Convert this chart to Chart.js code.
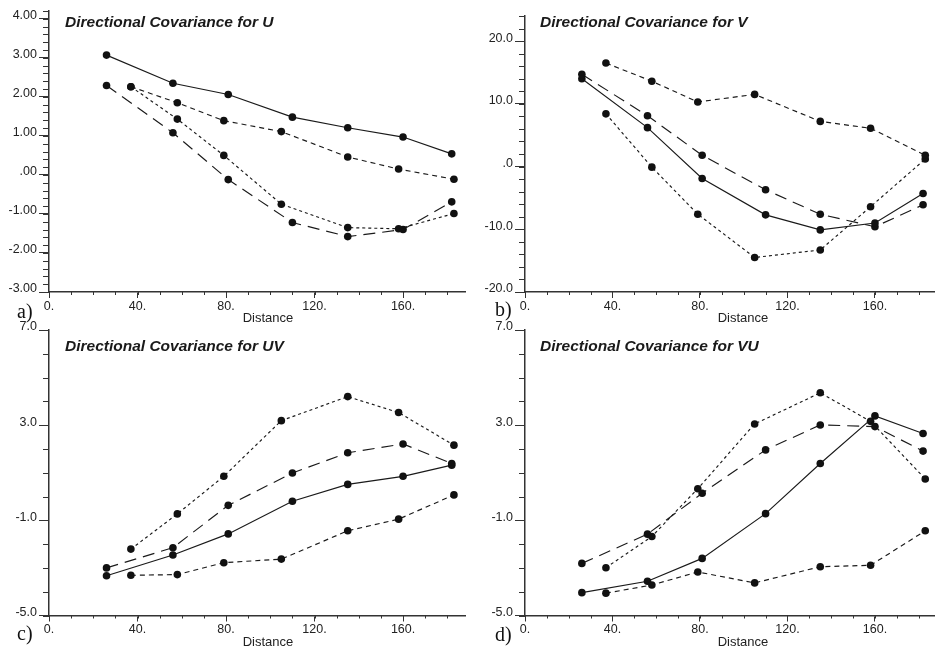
<!DOCTYPE html>
<html>
<head>
<meta charset="utf-8">
<script src="https://cdn.jsdelivr.net/npm/chart.js@4.4.1/dist/chart.umd.min.js"></script>
<style>
  body { margin: 0; background: #fff; }
  #fig { position: relative; width: 938px; height: 648px; overflow: hidden; background: #fff; }
  canvas { position: absolute; }
  .ttl { position: absolute; font: italic bold 15.5px 'Liberation Sans', Arial, sans-serif; line-height: 15px; color: #1a1a1a; white-space: nowrap; }
  .xl { position: absolute; font: 13px 'Liberation Sans', Arial, sans-serif; line-height: 13px; color: #222; transform: translateX(-50%); }
  .pl { position: absolute; font: 20px 'Liberation Serif', 'Times New Roman', serif; line-height: 20px; color: #111; }
</style>
</head>
<body>
<div id="fig">
  <canvas id="cU"  width="469" height="320" style="left:0;top:0"></canvas>
  <canvas id="cV"  width="470" height="320" style="left:468px;top:0"></canvas>
  <canvas id="cUV" width="469" height="328" style="left:0;top:320px"></canvas>
  <canvas id="cVU" width="470" height="328" style="left:468px;top:320px"></canvas>

  <div class="ttl" style="left:65px;top:14px">Directional Covariance for U</div>
  <div class="ttl" style="left:540px;top:14px">Directional Covariance for V</div>
  <div class="ttl" style="left:65px;top:338px">Directional Covariance for UV</div>
  <div class="ttl" style="left:540px;top:338px">Directional Covariance for VU</div>

  <div class="xl" style="left:268px;top:311px">Distance</div>
  <div class="xl" style="left:743px;top:311px">Distance</div>
  <div class="xl" style="left:268px;top:635px">Distance</div>
  <div class="xl" style="left:743px;top:635px">Distance</div>

  <div class="pl" style="left:17px;top:301px">a)</div>
  <div class="pl" style="left:495px;top:299px">b)</div>
  <div class="pl" style="left:17px;top:623px">c)</div>
  <div class="pl" style="left:495px;top:624px">d)</div>
</div>

<script>
// lag distances (two sets of directions)
const LAG_1 = [26, 56, 81, 110, 135, 160, 182]
const LAG_2 = [37, 58, 79, 105, 135, 158, 183]

const X_TICKS  = [0, 40, 80, 120, 160]
const X_LABELS = ['0.', '40.', '80.', '120.', '160.']

// a) U
const U_SOLID  = [3.07, 2.35, 2.06, 1.48, 1.21, 0.97, 0.54]
const U_LONG   = [2.29, 1.08, -0.12, -1.22, -1.58, -1.40, -0.69]
const U_MEDIUM = [2.26, 1.85, 1.39, 1.11, 0.46, 0.15, -0.11]
const U_FINE   = [2.26, 1.43, 0.50, -0.75, -1.35, -1.38, -0.99]
const U_Y_TICKS  = [-3, -2, -1, 0, 1, 2, 3, 4]
const U_Y_LABELS = ['-3.00', '-2.00', '-1.00', '.00', '1.00', '2.00', '3.00', '4.00']

// b) V
const V_SOLID  = [14.0, 6.2, -1.9, -7.7, -10.1, -9.0, -4.3]
const V_LONG   = [14.7, 8.1, 1.8, -3.7, -7.6, -9.6, -6.1]
const V_MEDIUM = [16.5, 13.6, 10.3, 11.5, 7.2, 6.1, 1.8]
const V_FINE   = [8.4, -0.1, -7.6, -14.5, -13.3, -6.4, 1.2]
const V_Y_TICKS  = [-20, -10, 0, 10, 20]
const V_Y_LABELS = ['-20.0', '-10.0', '.0', '10.0', '20.0']

// c) UV
const UV_SOLID  = [-3.33, -2.46, -1.57, -0.20, 0.51, 0.85, 1.32]
const UV_LONG   = [-3.00, -2.15, -0.37, 0.99, 1.84, 2.21, 1.39]
const UV_MEDIUM = [-3.31, -3.28, -2.78, -2.63, -1.44, -0.95, 0.07]
const UV_FINE   = [-2.21, -0.73, 0.85, 3.19, 4.20, 3.53, 2.16]

// d) VU
const VU_SOLID  = [-4.04, -3.56, -2.60, -0.72, 1.39, 3.39, 2.65]
const VU_LONG   = [-2.81, -1.58, 0.14, 1.96, 3.01, 2.94, 1.91]
const VU_MEDIUM = [-4.06, -3.72, -3.17, -3.63, -2.95, -2.89, -1.44]
const VU_FINE   = [-2.99, -1.68, 0.33, 3.05, 4.36, 3.16, 0.74]

const C_Y_TICKS  = [-5, -1, 3, 7]
const C_Y_LABELS = ['-5.0', '-1.0', '3.0', '7.0']

const DASH = { solid: [], long: [12, 7], medium: [5, 4], fine: [3, 3] }
const INK = '#1a1a1a'

Chart.defaults.font.family = "'Liberation Sans', Arial, sans-serif"
Chart.defaults.color = '#222'

// small unlabeled ticks between the labeled ones
const minorTicks = {
  id: 'minorTicks',
  afterDraw(chart, args, opts) {
    const { ctx, scales: { x, y } } = chart
    ctx.save()
    ctx.strokeStyle = '#333'; ctx.lineWidth = 1
    ctx.beginPath()
    const nx = Math.floor((x.max - x.min) / opts.x + 1e-6)
    for (let i = 0; i <= nx; i++) {
      const p = Math.round(x.getPixelForValue(x.min + i * opts.x)) + 0.5
      ctx.moveTo(p, x.top); ctx.lineTo(p, x.top + 3)
    }
    const ny = Math.round((y.max - y.min) / opts.y)
    for (let i = 0; i <= ny; i++) {
      const p = Math.round(y.getPixelForValue(y.min + i * opts.y)) + 0.5
      ctx.moveTo(y.right - 6, p); ctx.lineTo(y.right, p)
    }
    ctx.stroke()
    ctx.restore()
  }
}

function panel(id, p) {
  const xy = (xs, ys) => xs.map((x, i) => ({ x, y: ys[i] }))
  const datasets = p.series.map(([lags, vals, dash]) => ({
    data: xy(lags, vals),
    borderColor: INK, borderWidth: 1.15, borderDash: DASH[dash],
    pointRadius: 3.8, pointBackgroundColor: '#111', pointBorderWidth: 0,
    tension: 0, fill: false, clip: false
  }))
  return new Chart(document.getElementById(id), {
    type: 'line',
    data: { datasets },
    plugins: [minorTicks],
    options: {
      responsive: false, animation: false,
      layout: { padding: { top: p.padTop, right: p.padRight, left: 0, bottom: 0 } },
      plugins: { legend: { display: false }, tooltip: { enabled: false }, minorTicks: { x: 10, y: p.minorY } },
      scales: {
        x: {
          type: 'linear', min: 0, max: p.xMax,
          afterBuildTicks: s => { s.ticks = X_TICKS.map(value => ({ value })) },
          afterFit: s => { s.height = p.xHeight },
          ticks: { font: { size: 12.5 }, padding: 1, maxRotation: 0, autoSkip: false,
                   callback: v => X_LABELS[X_TICKS.indexOf(v)] },
          grid: { drawOnChartArea: false, tickLength: 6, color: '#333', lineWidth: 1 },
          border: { color: '#333', width: 1.5 }
        },
        y: {
          type: 'linear', min: p.yMin, max: p.yMax,
          afterBuildTicks: s => { s.ticks = p.yTicks.map(value => ({ value })) },
          afterFit: s => { s.width = p.yWidth },
          ticks: { font: { size: 12.5 }, padding: 2, labelOffset: -3, autoSkip: false,
                   callback: v => p.yLabels[p.yTicks.indexOf(v)] },
          grid: { drawOnChartArea: false, tickLength: 10, color: '#333', lineWidth: 1 },
          border: { color: '#333', width: 1.5 }
        }
      }
    }
  })
}

panel('cU', {
  series: [[LAG_1, U_SOLID, 'solid'], [LAG_1, U_LONG, 'long'], [LAG_2, U_MEDIUM, 'medium'], [LAG_2, U_FINE, 'fine']],
  yMin: -3, yMax: 4.2, yTicks: U_Y_TICKS, yLabels: U_Y_LABELS, minorY: 0.2,
  xMax: 188, yWidth: 49, xHeight: 28, padTop: 11, padRight: 3
})
panel('cV', {
  series: [[LAG_1, V_SOLID, 'solid'], [LAG_1, V_LONG, 'long'], [LAG_2, V_MEDIUM, 'medium'], [LAG_2, V_FINE, 'fine']],
  yMin: -20, yMax: 24, yTicks: V_Y_TICKS, yLabels: V_Y_LABELS, minorY: 2,
  xMax: 187, yWidth: 57, xHeight: 28, padTop: 16, padRight: 0
})
panel('cUV', {
  series: [[LAG_1, UV_SOLID, 'solid'], [LAG_1, UV_LONG, 'long'], [LAG_2, UV_MEDIUM, 'medium'], [LAG_2, UV_FINE, 'fine']],
  yMin: -5, yMax: 7, yTicks: C_Y_TICKS, yLabels: C_Y_LABELS, minorY: 1,
  xMax: 188, yWidth: 49, xHeight: 32.5, padTop: 10, padRight: 3
})
panel('cVU', {
  series: [[LAG_1, VU_SOLID, 'solid'], [LAG_1, VU_LONG, 'long'], [LAG_2, VU_MEDIUM, 'medium'], [LAG_2, VU_FINE, 'fine']],
  yMin: -5, yMax: 7, yTicks: C_Y_TICKS, yLabels: C_Y_LABELS, minorY: 1,
  xMax: 187, yWidth: 57, xHeight: 32.5, padTop: 10, padRight: 0
})
</script>
</body>
</html>
